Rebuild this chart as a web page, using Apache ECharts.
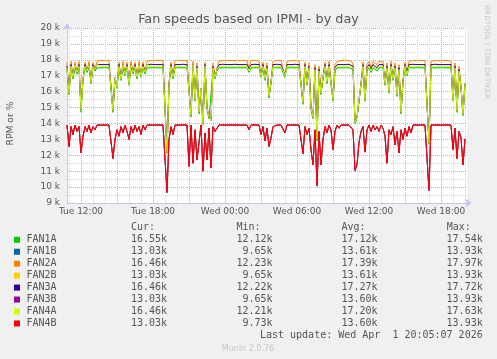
<!DOCTYPE html>
<html><head><meta charset="utf-8">
<script src="https://cdn.jsdelivr.net/npm/echarts@6/dist/echarts.min.js"></script>
<style>html,body{margin:0;padding:0;background:#f0f0f0}#c{width:497px;height:359px}</style>
</head><body><div id="c"></div>
<script>
// time base (hours since Tue 00:00), 10-minute samples
const startHour = 10 + 50 / 60;   // Tue 10:50
const stepHours = 10 / 60;
const xMin = 10 + 50 / 60;
const xMax = 44 + 10 / 60;        // Wed 20:10
const xTickHours = [12, 18, 24, 30, 36, 42];
const xTickLabels = ['Tue 12:00', 'Tue 18:00', 'Wed 00:00', 'Wed 06:00', 'Wed 12:00', 'Wed 18:00'];
const yMin = 9, yMax = 20;

const seriesNames = ['FAN1A', 'FAN1B', 'FAN2A', 'FAN2B', 'FAN3A', 'FAN3B', 'FAN4A', 'FAN4B'];
const seriesColors = ['#00cc00', '#0066b3', '#ff8000', '#ffcc00', '#330099', '#990099', '#ccff00', '#ff0000'];
const curVals = ['16.55k', '13.03k', '16.46k', '13.03k', '16.46k', '13.03k', '16.46k', '13.03k'];
const minVals = ['12.12k', '9.65k', '12.23k', '9.65k', '12.22k', '9.65k', '12.21k', '9.73k'];
const avgVals = ['17.12k', '13.61k', '17.39k', '13.61k', '17.27k', '13.60k', '17.20k', '13.60k'];
const maxVals = ['17.54k', '13.93k', '17.97k', '13.93k', '17.72k', '13.93k', '17.63k', '13.93k'];

// values in thousands of RPM
const fan1A = [17.4,15.8,17.5,16.8,17.5,17.1,17.5,14.7,16.7,17.5,
17.2,17.5,16.5,17.5,17.3,17.5,17.5,17.5,17.5,17.5,
17.5,17.5,17.5,14.7,16.8,16.2,17.5,16.7,17.5,17.0,
17.5,16.4,17.5,17.1,17.5,16.8,17.5,16.9,17.5,17.1,
17.5,17.5,17.5,17.5,17.5,17.5,17.5,17.5,17.5,17.5,
12.12,16.4,17.5,16.8,17.5,17.5,17.5,17.5,17.5,17.5,
17.5,17.5,14.4,17.5,15.4,17.4,14.6,16.1,13.9,17.5,
14.9,14.3,14.2,17.4,16.8,17.3,17.5,17.5,17.5,17.5,
17.5,17.5,17.5,17.5,17.5,17.5,17.5,17.5,17.5,17.5,
17.5,17.2,17.5,17.5,17.5,17.5,17.5,16.9,17.5,16.7,
17.4,15.6,16.5,17.5,17.5,17.5,17.5,17.5,17.5,16.9,
17.5,17.5,17.5,17.5,17.5,17.5,17.5,17.5,15.2,17.5,
16.4,17.4,14.9,14.3,17.3,12.9,17.2,15.8,16.8,17.5,
16.5,17.5,17.4,15.4,17.3,17.5,17.4,17.5,17.5,17.5,
17.5,17.5,17.5,17.4,14.0,14.3,14.4,16.4,17.5,15.4,
17.3,17.5,17.2,17.5,17.5,17.3,17.5,17.5,17.5,16.4,
17.4,15.9,17.5,16.7,17.4,15.7,17.3,14.6,16.6,17.5,
17.0,17.5,17.5,17.5,17.5,17.5,17.5,17.5,17.5,17.5,
17.5,12.7,17.5,17.5,17.5,17.5,17.5,17.5,17.5,17.5,
17.5,17.5,17.5,15.4,17.4,14.7,17.2,16.2,14.5,16.55];

const fan1B = [13.9,12.55,13.8,13.3,13.9,13.5,13.8,12.15,13.2,13.8,
13.5,13.9,13.4,13.8,13.6,13.9,13.9,13.9,13.9,13.9,
13.9,13.9,13.9,11.8,13.0,13.6,13.2,13.8,13.4,13.9,
13.5,13.0,13.8,13.4,13.9,13.5,13.8,13.3,13.9,13.6,
13.9,13.9,13.9,13.9,13.9,13.9,13.9,13.9,13.9,13.9,
9.65,13.0,13.8,13.3,13.9,13.9,13.9,13.9,13.9,13.9,
13.9,11.3,13.9,11.5,13.6,11.7,12.8,13.9,11.0,13.4,
11.7,13.7,11.2,13.8,13.5,13.4,13.9,13.9,13.9,13.9,
13.9,13.9,13.9,13.9,13.9,13.9,13.9,13.9,13.9,13.9,
13.9,13.6,13.9,13.9,13.9,13.9,13.9,13.3,13.8,12.9,
13.7,12.55,13.1,13.8,13.9,13.9,13.9,13.9,13.9,13.4,
13.9,13.9,13.9,13.9,13.9,13.9,13.9,13.9,12.1,13.8,
13.3,13.7,12.35,11.4,13.6,10.05,13.5,11.4,13.0,13.8,
13.4,13.9,13.6,12.35,13.5,13.9,13.7,13.9,13.9,13.9,
13.9,13.9,13.9,13.6,11.1,11.4,12.8,13.5,13.8,12.2,
13.6,13.9,13.5,13.9,13.6,13.8,13.5,13.9,13.7,13.2,
11.5,13.6,13.3,13.8,12.65,13.5,12.15,13.6,13.0,13.7,
13.2,13.8,13.4,13.9,13.9,13.9,13.9,13.9,13.9,13.9,
13.9,9.75,13.9,13.9,13.9,13.9,13.9,13.9,13.9,13.9,
13.9,13.9,13.9,12.35,13.7,11.8,13.5,13.1,11.4,13.03];

const fan2A = [17.8,15.9,17.9,16.9,17.85,17.2,17.9,14.9,16.8,17.85,
17.3,17.9,16.6,17.85,17.4,17.9,17.95,17.97,17.95,17.95,
17.97,17.95,17.95,14.8,16.9,16.3,17.85,16.8,17.9,17.1,
17.85,16.5,17.9,17.2,17.85,16.9,17.9,17.0,17.85,17.2,
17.9,17.95,17.95,17.97,17.95,17.95,17.97,17.95,17.95,17.95,
12.23,16.5,17.85,16.9,17.95,17.95,17.97,17.95,17.95,17.95,
17.95,17.85,14.5,17.9,15.5,17.8,14.7,16.2,14.0,17.85,
15.0,14.4,14.2,17.8,16.9,17.5,17.9,17.95,17.95,17.97,
17.95,17.95,17.95,17.97,17.95,17.95,17.95,17.97,17.95,17.95,
17.95,17.5,17.95,17.95,17.97,17.95,17.9,17.0,17.85,16.8,
17.8,15.7,16.6,17.9,17.95,17.95,17.97,17.95,17.9,17.0,
17.9,17.95,17.95,17.97,17.95,17.95,17.95,17.9,15.3,17.85,
16.5,17.8,15.0,14.4,17.7,13.0,17.6,15.9,16.9,17.85,
16.6,17.9,17.8,15.5,17.7,17.9,17.85,17.95,17.95,17.97,
17.95,17.95,17.9,17.8,14.1,14.4,14.5,16.5,17.85,15.5,
17.7,17.9,17.5,17.9,17.95,17.7,17.9,17.95,17.9,16.5,
17.8,16.0,17.9,16.8,17.8,15.8,17.7,14.7,16.7,17.85,
17.2,17.9,17.95,17.95,17.97,17.95,17.95,17.95,17.97,17.95,
17.95,12.8,17.9,17.95,17.95,17.97,17.95,17.95,17.95,17.95,
17.97,17.95,17.9,15.5,17.8,14.8,17.6,16.3,14.6,16.46];

const fan2B = [13.9,12.55,13.8,13.3,13.9,13.5,13.8,12.15,13.2,13.8,
13.5,13.9,13.4,13.8,13.6,13.9,13.9,13.9,13.9,13.9,
13.9,13.9,13.9,11.8,13.0,13.6,13.2,13.8,13.4,13.9,
13.5,13.0,13.8,13.4,13.9,13.5,13.8,13.3,13.9,13.6,
13.9,13.9,13.9,13.9,13.9,13.9,13.9,13.9,13.9,13.9,
9.65,13.0,13.8,13.3,13.9,13.9,13.9,13.9,13.9,13.9,
13.9,11.3,13.9,11.5,13.6,11.7,12.8,13.9,10.95,13.4,
11.7,13.7,11.2,13.8,13.5,13.4,13.9,13.9,13.9,13.9,
13.9,13.9,13.9,13.9,13.9,13.9,13.9,13.9,13.9,13.9,
13.9,13.6,13.9,13.9,13.9,13.9,13.9,13.3,13.8,12.9,
13.7,12.55,13.1,13.8,13.9,13.9,13.9,13.9,13.9,13.4,
13.9,13.9,13.9,13.9,13.9,13.9,13.9,13.9,12.1,13.8,
13.3,13.7,12.35,11.4,13.6,10.1,13.5,11.4,13.0,13.8,
13.4,13.9,13.6,12.35,13.5,13.9,13.7,13.9,13.9,13.9,
13.9,13.9,13.9,13.6,11.1,11.4,12.8,13.5,13.8,12.2,
13.6,13.9,13.5,13.9,13.6,13.8,13.5,13.9,13.7,13.2,
11.5,13.6,13.3,13.8,12.65,13.5,12.15,13.6,13.0,13.7,
13.2,13.8,13.4,13.9,13.9,13.9,13.9,13.9,13.9,13.9,
13.9,9.8,13.9,13.9,13.9,13.9,13.9,13.9,13.9,13.9,
13.9,13.9,13.9,12.35,13.7,11.8,13.5,13.1,11.4,13.03];

const fan3A = [17.6,15.9,17.7,16.9,17.7,17.2,17.7,14.9,16.8,17.7,
17.3,17.7,16.6,17.7,17.4,17.7,17.7,17.7,17.72,17.7,
17.7,17.72,17.7,14.8,16.9,16.3,17.7,16.8,17.7,17.1,
17.7,16.5,17.7,17.2,17.7,16.9,17.7,17.0,17.7,17.2,
17.7,17.7,17.72,17.7,17.7,17.72,17.7,17.7,17.72,17.7,
12.22,16.5,17.7,16.9,17.7,17.72,17.7,17.7,17.72,17.7,
17.7,17.7,14.5,17.7,15.5,17.6,14.7,16.2,13.9,17.7,
15.0,14.4,14.2,17.6,16.9,17.4,17.7,17.7,17.72,17.7,
17.7,17.72,17.7,17.7,17.72,17.7,17.7,17.72,17.7,17.7,
17.72,17.4,17.7,17.7,17.72,17.7,17.7,17.0,17.7,16.8,
17.6,15.7,16.6,17.7,17.7,17.72,17.7,17.7,17.7,17.0,
17.7,17.72,17.7,17.7,17.72,17.7,17.7,17.7,15.3,17.7,
16.5,17.6,15.0,14.4,17.5,13.0,17.4,15.9,16.9,17.7,
16.6,17.7,17.6,15.5,17.5,17.7,17.6,17.7,17.72,17.7,
17.7,17.72,17.7,17.6,14.1,14.4,14.5,16.5,17.7,15.5,
17.5,17.7,17.4,17.7,17.7,17.5,17.7,17.7,17.7,16.5,
17.6,16.0,17.7,16.8,17.6,15.8,17.5,14.7,16.7,17.7,
17.2,17.7,17.7,17.72,17.7,17.7,17.72,17.7,17.7,17.7,
17.72,12.8,17.7,17.7,17.72,17.7,17.7,17.72,17.7,17.7,
17.7,17.72,17.7,15.5,17.6,14.8,17.4,16.3,14.6,16.46];

const fan3B = [13.9,12.55,13.8,13.3,13.9,13.5,13.8,12.15,13.2,13.8,
13.5,13.9,13.4,13.8,13.6,13.9,13.9,13.9,13.9,13.9,
13.9,13.9,13.9,11.8,13.0,13.6,13.2,13.8,13.4,13.9,
13.5,13.0,13.8,13.4,13.9,13.5,13.8,13.3,13.9,13.6,
13.9,13.9,13.9,13.9,13.9,13.9,13.9,13.9,13.9,13.9,
9.65,13.0,13.8,13.3,13.9,13.9,13.9,13.9,13.9,13.9,
13.9,11.3,13.9,11.5,13.6,11.7,12.8,13.9,11.0,13.4,
11.7,13.7,11.2,13.8,13.5,13.4,13.9,13.9,13.9,13.9,
13.9,13.9,13.9,13.9,13.9,13.9,13.9,13.9,13.9,13.9,
13.9,13.6,13.9,13.9,13.9,13.9,13.9,13.3,13.8,12.9,
13.7,12.55,13.1,13.8,13.9,13.9,13.9,13.9,13.9,13.4,
13.9,13.9,13.9,13.9,13.9,13.9,13.9,13.9,12.1,13.8,
13.3,13.7,12.35,11.4,13.6,10.1,13.5,11.4,13.0,13.8,
13.4,13.9,13.6,12.35,13.5,13.9,13.7,13.9,13.9,13.9,
13.9,13.9,13.9,13.6,11.0,11.4,12.8,13.5,13.8,12.2,
13.6,13.9,13.5,13.9,13.6,13.8,13.5,13.9,13.7,13.2,
11.5,13.6,13.3,13.8,12.65,13.5,12.15,13.6,13.0,13.7,
13.2,13.8,13.4,13.9,13.9,13.9,13.9,13.9,13.9,13.9,
13.9,9.78,13.9,13.9,13.9,13.9,13.9,13.9,13.9,13.9,
13.9,13.9,13.9,12.35,13.7,11.8,13.5,13.1,11.4,13.03];

const fan4A = [17.5,15.9,17.6,16.9,17.7,17.2,17.6,14.9,16.8,17.6,
17.3,17.7,16.6,17.6,17.4,17.7,17.6,17.6,17.6,17.6,
17.6,17.6,17.6,14.8,16.9,16.3,17.6,16.8,17.7,17.1,
17.6,16.5,17.7,17.2,17.6,16.9,17.7,17.0,17.6,17.2,
17.7,17.6,17.6,17.6,17.6,17.6,17.6,17.6,17.6,17.6,
12.21,16.5,17.6,16.9,17.6,17.6,17.6,17.6,17.6,17.6,
17.6,17.6,14.5,17.7,15.5,17.5,14.7,16.2,13.9,17.6,
15.0,14.4,14.2,17.5,16.9,17.4,17.6,17.6,17.6,17.6,
17.6,17.6,17.6,17.6,17.6,17.6,17.6,17.6,17.6,17.6,
17.6,17.3,17.6,17.6,17.6,17.6,17.6,17.0,17.6,16.8,
17.5,15.7,16.6,17.6,17.6,17.6,17.6,17.6,17.6,17.0,
17.6,17.6,17.6,17.6,17.6,17.6,17.6,17.6,15.3,17.6,
16.5,17.5,15.0,14.4,17.4,13.0,17.3,15.9,16.9,17.6,
16.6,17.6,17.5,15.5,17.4,17.6,17.5,17.6,17.6,17.6,
17.6,17.6,17.6,17.5,14.1,14.4,14.5,16.5,17.6,15.5,
17.4,17.6,17.3,17.6,17.6,17.4,17.6,17.6,17.6,16.5,
17.5,16.0,17.6,16.8,17.5,15.8,17.4,14.7,16.7,17.6,
17.1,17.6,17.6,17.6,17.6,17.6,17.6,17.6,17.6,17.6,
17.6,12.8,17.6,17.6,17.6,17.6,17.6,17.6,17.6,17.6,
17.6,17.6,17.6,15.5,17.5,14.8,17.3,16.3,14.6,16.46];

const fan4B = [13.9,12.55,13.8,13.3,13.9,13.5,13.8,12.15,13.2,13.8,
13.5,13.9,13.4,13.8,13.6,13.9,13.9,13.9,13.9,13.9,
13.9,13.9,13.9,11.8,13.0,13.6,13.2,13.8,13.4,13.9,
13.5,13.0,13.8,13.4,13.9,13.5,13.8,13.3,13.9,13.6,
13.9,13.9,13.9,13.9,13.9,13.9,13.9,13.9,13.9,13.9,
9.73,13.0,13.8,13.3,13.9,13.9,13.9,13.9,13.9,13.9,
13.9,11.3,13.9,11.5,13.6,11.7,12.8,13.9,11.0,13.4,
11.7,13.7,11.2,13.8,13.5,13.4,13.9,13.9,13.9,13.9,
13.9,13.9,13.9,13.9,13.9,13.9,13.9,13.9,13.9,13.9,
13.9,13.6,13.9,13.9,13.9,13.9,13.9,13.3,13.8,12.9,
13.7,12.55,13.1,13.8,13.9,13.9,13.9,13.9,13.9,13.4,
13.9,13.9,13.9,13.9,13.9,13.9,13.9,13.9,12.1,13.8,
13.3,13.7,12.35,11.4,13.6,10.1,13.5,11.4,13.0,13.8,
13.4,13.9,13.6,12.35,13.5,13.9,13.7,13.9,13.9,13.9,
13.9,13.9,13.9,13.6,11.1,11.4,12.8,13.5,13.8,12.2,
13.6,13.9,13.5,13.9,13.6,13.8,13.5,13.9,13.7,13.2,
11.5,13.6,13.3,13.8,12.65,13.5,12.15,13.6,13.0,13.7,
13.2,13.8,13.4,13.9,13.9,13.9,13.9,13.9,13.9,13.9,
13.9,9.8,13.9,13.9,13.9,13.9,13.9,13.9,13.9,13.9,
13.9,13.9,13.9,12.35,13.7,11.8,13.5,13.1,11.4,13.03];

const fanData = [fan1A, fan1B, fan2A, fan2B, fan3A, fan3B, fan4A, fan4B];

const TEXT = '#555555';
const MAJOR = '#e9a3a3';
const MINOR = '#d6d6d6';
const AXIS = '#c4c8ee';

const chart = echarts.init(document.getElementById('c'), null, { renderer: 'canvas' });

const hourLines = [];
for (let h = Math.ceil(xMin); h <= Math.floor(xMax); h++) {
  hourLines.push({ xAxis: h, lineStyle: { color: h % 3 === 0 ? MAJOR : MINOR, type: [1, 1], width: 1 } });
}

const series = [{
  type: 'line', data: [], z: 1, silent: true,
  markLine: { symbol: 'none', silent: true, animation: false, label: { show: false }, emphasis: { disabled: true }, data: hourLines }
}];
fanData.forEach((arr, k) => {
  series.push({
    name: seriesNames[k], type: 'line', z: 2 + k,
    data: arr.map((v, i) => [startHour + i * stepHours, v]),
    showSymbol: false, symbol: 'none',
    lineStyle: { color: seriesColors[k], width: 1 },
    itemStyle: { color: seriesColors[k] },
    emphasis: { disabled: true }, silent: true
  });
});

const mono = '10px "DejaVu Sans Mono"';
const graphic = [];
graphic.push({ type: 'text', x: 248.5, y: 19.5, style: { text: 'Fan speeds based on IPMI - by day', font: '12.8px "DejaVu Sans"', fill: TEXT, align: 'center', verticalAlign: 'middle', textAlign: 'center', textVerticalAlign: 'middle' } });
graphic.push({ type: 'text', x: 11, y: 123.5, rotation: Math.PI / 2, style: { text: 'RPM or %', font: '9.2px "DejaVu Sans"', fill: TEXT, align: 'center', verticalAlign: 'middle', textAlign: 'center', textVerticalAlign: 'middle' } });
graphic.push({ type: 'text', x: 487, y: 5, rotation: -Math.PI / 2, style: { text: 'RRDTOOL / TOBI OETIKER', font: '7.3px "DejaVu Sans"', fill: '#c8c8c8', align: 'left', verticalAlign: 'middle', textAlign: 'left', textVerticalAlign: 'middle' } });
const colRight = [167, 272.5, 377.5, 482.7];
const headers = ['Cur:', 'Min:', 'Avg:', 'Max:'];
headers.forEach((h, j) => {
  graphic.push({ type: 'text', x: colRight[j] - 36, y: 227.5, style: { text: h, font: mono, fill: TEXT, align: 'left', verticalAlign: 'middle', textAlign: 'left', textVerticalAlign: 'middle' } });
});
seriesNames.forEach((n, k) => {
  const y = 239.8 + k * 11.95;
  graphic.push({ type: 'rect', shape: { x: 14, y: y - 3, width: 6, height: 6 }, style: { fill: seriesColors[k] } });
  graphic.push({ type: 'text', x: 26.5, y: y, style: { text: n, font: mono, fill: TEXT, align: 'left', verticalAlign: 'middle', textAlign: 'left', textVerticalAlign: 'middle' } });
  [curVals, minVals, avgVals, maxVals].forEach((vals, j) => {
    graphic.push({ type: 'text', x: colRight[j], y: y, style: { text: vals[k], font: mono, fill: TEXT, align: 'right', verticalAlign: 'middle', textAlign: 'right', textVerticalAlign: 'middle' } });
  });
});
graphic.push({ type: 'text', x: 482.7, y: 335.8, style: { text: 'Last update: Wed Apr  1 20:05:07 2026', font: mono, fill: TEXT, align: 'right', verticalAlign: 'middle', textAlign: 'right', textVerticalAlign: 'middle' } });
graphic.push({ type: 'text', x: 248, y: 348.5, style: { text: 'Munin 2.0.76', font: '8px "DejaVu Sans"', fill: '#c8c8c8', align: 'center', verticalAlign: 'middle', textAlign: 'center', textVerticalAlign: 'middle' } });

chart.setOption({
  animation: false,
  backgroundColor: '#f0f0f0',
  grid: { left: 67, right: 30, top: 28, bottom: 156, show: true, backgroundColor: '#ffffff', borderWidth: 0 },
  xAxis: {
    type: 'value', min: xMin, max: xMax,
    axisLine: { show: true, lineStyle: { color: AXIS, width: 1 }, symbol: ['none', 'arrow'], symbolSize: [7, 7], symbolOffset: [0, 5] },
    axisTick: { show: false },
    axisLabel: { customValues: xTickHours, formatter: v => xTickLabels[xTickHours.indexOf(Math.round(v))] || '', color: TEXT, fontFamily: 'DejaVu Sans', fontSize: 9, margin: 4, showMinLabel: true, showMaxLabel: true },
    splitLine: { show: false }
  },
  yAxis: {
    type: 'value', min: yMin, max: yMax, interval: 1,
    axisLine: { show: true, lineStyle: { color: AXIS, width: 1 }, symbol: ['none', 'arrow'], symbolSize: [7, 7], symbolOffset: [0, 5] },
    axisTick: { show: false },
    axisLabel: { formatter: v => v + ' k', color: TEXT, fontFamily: 'DejaVu Sans', fontSize: 9, margin: 7 },
    splitLine: { show: true, lineStyle: { color: MAJOR, type: [1, 1], width: 1 } },
    minorTick: { show: false, splitNumber: 2 },
    minorSplitLine: { show: true, lineStyle: { color: MINOR, type: [1, 1], width: 1 } }
  },
  series: series,
  graphic: graphic
});
</script></body></html>
